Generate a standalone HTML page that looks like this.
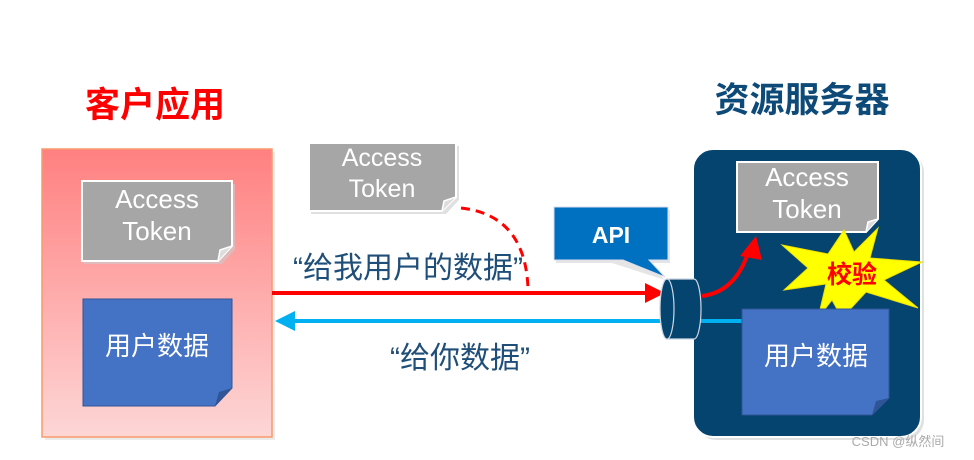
<!DOCTYPE html>
<html><head><meta charset="utf-8"><style>
html,body{margin:0;padding:0;background:#fff;}
svg{display:block;}
text{font-family:"Liberation Sans","Noto Sans CJK SC",sans-serif;}
</style></head><body>
<svg width="974" height="460" viewBox="0 0 974 460" xmlns="http://www.w3.org/2000/svg">
<defs>
<linearGradient id="lg" x1="0" y1="0" x2="0" y2="1">
<stop offset="0" stop-color="#ff8080"/><stop offset="1" stop-color="#fdd6d6"/>
</linearGradient>
</defs>
<text x="155" y="117" font-size="35" font-weight="bold" fill="#ff0000" text-anchor="middle">客户应用</text>
<text x="802" y="112" font-size="35" font-weight="bold" fill="#0d4a78" text-anchor="middle">资源服务器</text>

<!-- left panel -->
<rect x="45" y="152" width="230" height="288" fill="#ddd" opacity="0.6"/>
<rect x="42" y="149" width="230" height="288" fill="url(#lg)" stroke="#f79b6a" stroke-width="1.5"/>
<path d="M84 184 H235 V250 L222 264 H84 Z" fill="#ccc" opacity="0.6"/>
<path d="M82 181 H232 V246 L218 261 H82 Z" fill="#a6a6a6" stroke="#fff" stroke-width="2"/>
<path d="M218 261 L220 250 L232 246" fill="#ddd" stroke="#fff" stroke-width="1.5"/>
<text x="157" y="208" font-size="26" fill="#fff" text-anchor="middle">Access</text>
<text x="157" y="240" font-size="26" fill="#fff" text-anchor="middle">Token</text>
<path d="M83 299 H232 V388 L215 406 H83 Z" fill="#4472c4" stroke="#2f5597" stroke-width="1"/>
<path d="M215 406 L219 392 L232 388 Z" fill="#2f5597"/>
<text x="157" y="355" font-size="26" fill="#fff" text-anchor="middle">用户数据</text>

<!-- middle token -->
<path d="M311 146 H459 V200 L446 214 H311 Z" fill="#ccc" opacity="0.6"/>
<path d="M309 143 H456 V197 L442 211 H309 Z" fill="#a6a6a6" stroke="#fff" stroke-width="2"/>
<path d="M442 211 L444 201 L456 197" fill="#ddd" stroke="#fff" stroke-width="1.5"/>
<text x="382" y="166" font-size="25" fill="#fff" text-anchor="middle">Access</text>
<text x="382" y="197" font-size="25" fill="#fff" text-anchor="middle">Token</text>
<path d="M461 208 Q525 215 528 288" fill="none" stroke="#ff0000" stroke-width="3" stroke-dasharray="9,6"/>

<text x="408" y="278" font-size="30" fill="#1f4e79" text-anchor="middle">“给我用户的数据”</text>
<text x="460" y="368" font-size="30" fill="#1f4e79" text-anchor="middle">“给你数据”</text>

<!-- arrows -->
<line x1="272" y1="293" x2="648" y2="293" stroke="#ff0000" stroke-width="4"/>
<path d="M645 283 L665 293 L645 303 Z" fill="#ff0000"/>
<line x1="292" y1="321" x2="745" y2="321" stroke="#00b0f0" stroke-width="4"/>
<path d="M295 311 L275 321 L295 331 Z" fill="#00b0f0"/>

<!-- right panel -->
<rect x="696" y="152" width="228" height="288" rx="20" fill="#ccc" opacity="0.6"/>
<rect x="693" y="149" width="228" height="288" rx="20" fill="#05446f" stroke="#fff" stroke-width="2"/>
<line x1="700" y1="321" x2="745" y2="321" stroke="#00b0f0" stroke-width="4"/>
<path d="M737 162 H878 V219 L866 232 H737 Z" fill="#a6a6a6" stroke="#fff" stroke-width="2"/>
<path d="M866 232 L868 222 L878 219" fill="#ddd" stroke="#fff" stroke-width="1.5"/>
<text x="807" y="186" font-size="26" fill="#fff" text-anchor="middle">Access</text>
<text x="807" y="218" font-size="26" fill="#fff" text-anchor="middle">Token</text>
<!-- starburst -->
<polygon points="878,228 870,258 922,262 884,280 918,308 866,292 842,318 832,300 818,318 826,284 784,290 808,268 782,245 828,254 844,230 854,252" fill="#ffff00" stroke="#f0e000" stroke-width="1"/>
<text x="852" y="283" font-size="25" font-weight="bold" fill="#ff0000" text-anchor="middle">校验</text>
<path d="M742 309 H889 V398 L872 415 H742 Z" fill="#4472c4" stroke="#2f5597" stroke-width="1"/>
<path d="M872 415 L876 401 L889 398 Z" fill="#2f5597"/>
<text x="816" y="365" font-size="26" fill="#fff" text-anchor="middle">用户数据</text>
<!-- red curved arrow -->
<path d="M702 296 Q735 292 748 253" fill="none" stroke="#ff0000" stroke-width="4"/>
<path d="M740 256 L756 236 L762 260 Z" fill="#ff0000"/>

<!-- API callout -->
<path d="M556 210 H670 V263 H612 L665 280 L648 263 H556 Z" fill="#ccc" opacity="0.5"/>
<path d="M554 207 H668 V260 H649 L665 277 L623 260 H554 Z" fill="#0070c0" stroke="#dde" stroke-width="1"/>
<text x="611" y="243" font-size="23" font-weight="bold" fill="#fff" text-anchor="middle">API</text>
<!-- cylinder -->
<path d="M667 279 H694 A7 30 0 0 1 694 339 H667 A7 30 0 0 1 667 279 Z" fill="#05446f" stroke="#cfd8e3" stroke-width="1.2"/>
<ellipse cx="667" cy="309" rx="7" ry="30" fill="#05446f" stroke="#cfd8e3" stroke-width="1.2"/>

<text x="898" y="446" font-size="13" fill="#aaa" text-anchor="middle">CSDN @纵然间</text>
</svg>
</body></html>
